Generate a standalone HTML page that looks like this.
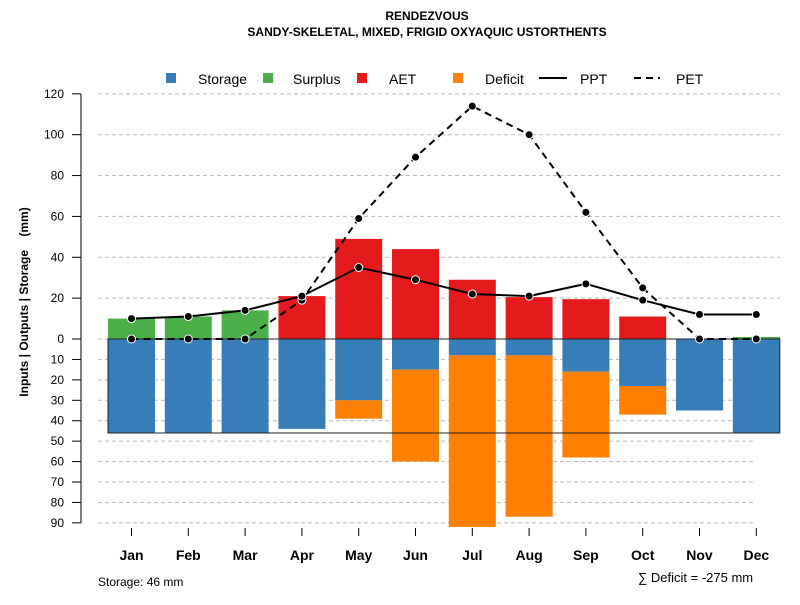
<!DOCTYPE html>
<html><head><meta charset="utf-8"><style>
body{margin:0;background:#fff}
svg{font-family:"Liberation Sans",sans-serif}
</style></head><body>
<svg id="c" width="800" height="600">
<text x="427" y="20" text-anchor="middle" font-size="12" font-weight="bold">RENDEZVOUS</text>
<text x="427" y="36" text-anchor="middle" font-size="12" font-weight="bold">SANDY-SKELETAL, MIXED, FRIGID OXYAQUIC USTORTHENTS</text>
<text transform="translate(28,302) rotate(-90)" text-anchor="middle" font-size="12" font-weight="bold" xml:space="preserve">Inputs | Outputs | Storage    (mm)</text>
<g id="legend">
<rect x="166" y="73" width="10" height="10" fill="#377EB8"/>
<text x="198" y="84" font-size="14">Storage</text>
<rect x="263" y="73" width="10" height="10" fill="#4DAF4A"/>
<text x="293" y="84" font-size="14">Surplus</text>
<rect x="357" y="73" width="10" height="10" fill="#E41A1C"/>
<text x="389" y="84" font-size="14">AET</text>
<rect x="453" y="73" width="10" height="10" fill="#FF7F00"/>
<text x="485" y="84" font-size="14">Deficit</text>
<line x1="539" y1="78" x2="567" y2="78" stroke="#000" stroke-width="2"/>
<text x="580" y="84" font-size="14">PPT</text>
<line x1="634" y1="78" x2="660" y2="78" stroke="#000" stroke-width="2" stroke-dasharray="7,5"/>
<text x="676" y="84" font-size="14">PET</text>
</g>
<text x="98" y="586" font-size="12">Storage: 46 mm</text>
<text x="638" y="582" font-size="13">∑ Deficit = -275 mm</text>
</svg>
<script>
const months=["Jan","Feb","Mar","Apr","May","Jun","Jul","Aug","Sep","Oct","Nov","Dec"];
const storage=[46,46,46,44,30,15,8,8,16,23,35,46];
const deficit=[0,0,0,0,9,45,84,79,42,14,0,0];
const surplus=[10,11,14,0,0,0,0,0,0,0,0,1];
const aet=[0,0,0,21,49,44,29,20.5,19.5,11,0,0];
const ppt=[10,11,14,21,35,29,22,21,27,19,12,12];
const pet=[0,0,0,19,59,89,114,100,62,25,0,0];
const upTicks=[0,20,40,60,80,100,120];
const downTicks=[10,20,30,40,50,60,70,80,90];
const soilStorage=46;
const svg=document.getElementById('c');const NS="http://www.w3.org/2000/svg";
const y0=339,k=2.043;
const yUp=v=>y0-v*k, yDn=v=>y0+v*k;
const xm=i=>131.5+i*56.8;
const bw=47;
function el(t,a,p){const e=document.createElementNS(NS,t);for(const n in a)e.setAttribute(n,a[n]);(p||svg).appendChild(e);return e;}
upTicks.forEach(v=>{const g=el('line',{x1:98,x2:780,y1:yUp(v),y2:yUp(v),stroke:'#bbb','stroke-dasharray':'4,3'});

});
downTicks.forEach(v=>{const g=el('line',{x1:98,x2:756,y1:yDn(v),y2:yDn(v),stroke:'#bbb','stroke-dasharray':'4,3'});

});
const ax=el('line',{x1:81,x2:81,y1:yUp(120),y2:yDn(90),stroke:'#555','stroke-width':1.5});


upTicks.forEach(v=>{el('line',{x1:72,x2:81,y1:yUp(v),y2:yUp(v),stroke:'#000'});
const t=el('text',{x:64,y:yUp(v)+4,'text-anchor':'end','font-size':12});t.textContent=v;

});
downTicks.forEach(v=>{el('line',{x1:72,x2:81,y1:yDn(v),y2:yDn(v),stroke:'#000'});
const t=el('text',{x:64,y:yDn(v)+4,'text-anchor':'end','font-size':12});t.textContent=v;

});
months.forEach((m,i)=>{const x=xm(i)-bw/2;
let r=el('rect',{x:x,y:y0,width:bw,height:storage[i]*k,fill:'#377EB8'});


if(deficit[i]>0){r=el('rect',{x:x,y:yDn(storage[i]),width:bw,height:deficit[i]*k,fill:'#FF7F00'});

}
if(surplus[i]>0){r=el('rect',{x:x,y:yUp(surplus[i]),width:bw,height:surplus[i]*k,fill:'#4DAF4A'});

}
if(aet[i]>0){r=el('rect',{x:x,y:yUp(aet[i]),width:bw,height:aet[i]*k,fill:'#E41A1C'});

}
el('line',{x1:xm(i),x2:xm(i),y1:528,y2:536,stroke:'#000'});
const t=el('text',{x:xm(i),y:560,'text-anchor':'middle','font-size':14,'font-weight':'bold'});t.textContent=m;


});
const box=el('rect',{x:xm(0)-bw/2,y:y0,width:xm(11)+bw/2-(xm(0)-bw/2),height:soilStorage*k,fill:'none',stroke:'#222','stroke-width':1});


function series(arr,dash,name){
const p=el('polyline',{points:arr.map((v,i)=>xm(i)+','+yUp(v)).join(' '),fill:'none',stroke:'#000','stroke-width':2,'stroke-dasharray':dash});


arr.forEach((v,i)=>{const c=el('circle',{cx:xm(i),cy:yUp(v),r:4,fill:'#000',stroke:'#fff','stroke-width':1});

});}
series(pet,'7,5','pet');
series(ppt,'none','ppt');
</script>
</body></html>
